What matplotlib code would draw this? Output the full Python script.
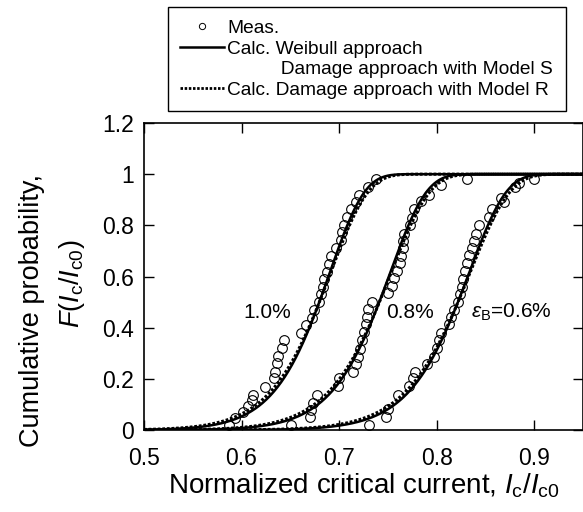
import numpy as np
import matplotlib
matplotlib.use("Agg")
import matplotlib.pyplot as plt
from matplotlib.lines import Line2D

plt.rcParams['font.family'] = ['Liberation Sans', 'DejaVu Sans']
plt.rcParams['mathtext.fontset'] = 'custom'
plt.rcParams['mathtext.rm'] = 'Liberation Sans'
plt.rcParams['mathtext.it'] = 'Liberation Sans:italic'
plt.rcParams['mathtext.bf'] = 'Liberation Sans:bold'

# Measured cumulative probabilities for each bending strain
meas_x_10 = [0.587, 0.593, 0.6015, 0.607, 0.611, 0.612, 0.624, 0.633, 0.634, 0.636,
             0.637, 0.641, 0.6435, 0.661, 0.666, 0.672, 0.674, 0.679, 0.681, 0.683,
             0.685, 0.688, 0.690, 0.692, 0.697, 0.702, 0.703, 0.705, 0.708, 0.712,
             0.7175, 0.720, 0.730, 0.738]
meas_F_10 = [0.02, 0.047, 0.072, 0.095, 0.117, 0.137, 0.169, 0.202, 0.228, 0.26,
             0.29, 0.32, 0.352, 0.38, 0.41, 0.439, 0.469, 0.50, 0.53, 0.56,
             0.59, 0.618, 0.647, 0.68, 0.71, 0.742, 0.775, 0.803, 0.833, 0.863,
             0.892, 0.92, 0.95, 0.98]

meas_x_08 = [0.651, 0.670, 0.671, 0.673, 0.6775, 0.699, 0.700, 0.714, 0.7175, 0.719,
             0.721, 0.723, 0.726, 0.728, 0.729, 0.730, 0.7335, 0.750, 0.754, 0.7566,
             0.7594, 0.762, 0.7634, 0.765, 0.766, 0.767, 0.773, 0.7745, 0.777, 0.784,
             0.792, 0.804, 0.831]
meas_F_08 = [0.02, 0.052, 0.078, 0.107, 0.137, 0.172, 0.202, 0.228, 0.257, 0.286,
             0.318, 0.35, 0.384, 0.413, 0.443, 0.473, 0.50, 0.534, 0.564, 0.593,
             0.621, 0.651, 0.681, 0.71, 0.738, 0.768, 0.80, 0.829, 0.863, 0.894,
             0.92, 0.957, 0.98]

meas_x_06 = [0.731, 0.748, 0.750, 0.760, 0.772, 0.7754, 0.778, 0.790, 0.7975, 0.800,
             0.802, 0.804, 0.813, 0.8146, 0.818, 0.822, 0.824, 0.8258, 0.827, 0.829,
             0.8306, 0.833, 0.836, 0.8384, 0.840, 0.843, 0.8538, 0.857, 0.869, 0.8657,
             0.880, 0.884, 0.900]
meas_F_06 = [0.02, 0.052, 0.081, 0.137, 0.172, 0.202, 0.228, 0.257, 0.286, 0.32,
             0.35, 0.38, 0.413, 0.443, 0.47, 0.50, 0.53, 0.56, 0.59, 0.621,
             0.651, 0.684, 0.71, 0.738, 0.768, 0.80, 0.833, 0.863, 0.892, 0.905,
             0.95, 0.964, 0.98]

strain_labels = ["1.0%", "0.8%", r"$\varepsilon_{\mathrm{B}}$=0.6%"]

# Weibull parameters (shape m, scale s) of the calculated curves
weibull_m = [20.4, 21.3, 23.0]
weibull_s = [0.692, 0.754, 0.835]
damage_R_m = [19.0, 20.0, 21.5]
damage_R_s = [0.693, 0.755, 0.836]

x_ticks = [0.5, 0.6, 0.7, 0.8, 0.9]
y_ticks = [0, 0.2, 0.4, 0.6, 0.8, 1.0, 1.2]
y_ticklabels = ["0", "0.2", "0.4", "0.6", "0.8", "1", "1.2"]


def weibull_cdf(x, m, s):
    return 1.0 - np.exp(-(x / s) ** m)


W, H = 583, 512
fig = plt.figure(figsize=(W / 100, H / 100), dpi=100)
ax = fig.add_axes([144 / W, 82 / H, (583 - 144) / W, 307 / H])

xc = np.linspace(0.5, 0.95, 600)
meas = [(meas_x_10, meas_F_10), (meas_x_08, meas_F_08), (meas_x_06, meas_F_06)]
for (mx, mf) in meas:
    ax.plot(mx, mf, linestyle='none', marker='o', markersize=7,
            markerfacecolor='none', markeredgecolor='black', markeredgewidth=0.8,
            zorder=2)
for m, s in zip(weibull_m, weibull_s):
    ax.plot(xc, weibull_cdf(xc, m, s), color='black', lw=1.8, zorder=3)
for m, s in zip(damage_R_m, damage_R_s):
    ax.plot(xc, weibull_cdf(xc, m, s), color='black', lw=2.2,
            linestyle=(0, (0.9, 0.6)), dash_capstyle='butt', zorder=4)

ax.set_xlim(0.5, 0.95)
ax.set_ylim(0, 1.2)
ax.set_xticks(x_ticks)
ax.set_xticklabels([f"{v:g}" for v in x_ticks])
ax.set_yticks(y_ticks)
ax.set_yticklabels(y_ticklabels)
ax.tick_params(direction='in', top=True, right=True, length=7, width=1.0,
               labelsize=16.5)
ax.tick_params(axis='y', pad=7)
ax.tick_params(axis='x', pad=12)
for sp in ax.spines.values():
    sp.set_linewidth(1.2)

ax.set_xlabel(r"Normalized critical current, $I_{\mathrm{c}}$/$I_{\mathrm{c0}}$",
              fontsize=20, labelpad=1.5)

# two-line y-axis title, each line placed on its own
ax.text(-0.255, 0.39, "Cumulative probability,", transform=ax.transAxes,
        rotation=90, ha='center', va='center', fontsize=19.5)
ax.text(-0.164, 0.475, r"$F$($I_{\mathrm{c}}$/$I_{\mathrm{c0}}$)",
        transform=ax.transAxes, rotation=90, ha='center', va='center',
        fontsize=19.5)

text_pos = [(0.6268, 0.46), (0.773, 0.46), (0.8764, 0.46)]
for (tx, ty), lab in zip(text_pos, strain_labels):
    ax.text(tx, ty, lab, fontsize=15, ha='center', va='center')

handles = [
    Line2D([], [], linestyle='none', marker='o', markersize=4.5,
           markerfacecolor='none', markeredgecolor='black', markeredgewidth=0.7),
    Line2D([], [], color='black', lw=1.8),
    Line2D([], [], color='none', lw=0),
    Line2D([], [], color='black', lw=2.0, linestyle=(0, (0.9, 0.6)),
           dash_capstyle='butt'),
]
labels = ["Meas.", "Calc. Weibull approach",
          "          Damage approach with Model S",
          "Calc. Damage approach with Model R"]
leg = fig.legend(handles, labels, loc='upper left',
                 bbox_to_anchor=(168 / W, 1 - 7 / H), fontsize=13.8,
                 frameon=True, fancybox=False, framealpha=1, edgecolor='black',
                 borderpad=0.65, labelspacing=0.17, handlelength=2.25,
                 handletextpad=0.2, numpoints=1, borderaxespad=0)
leg.get_frame().set_linewidth(1.0)

fig.savefig("out.png", dpi=100)
